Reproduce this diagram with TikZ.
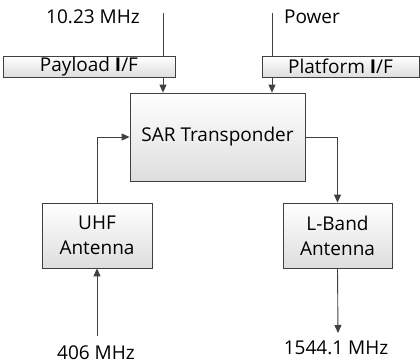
\documentclass[tikz,border=0pt]{standalone}
\usepackage{fontspec}
\setmainfont{Open Sans}
\usetikzlibrary{arrows.meta,positioning}

\begin{document}
\begin{tikzpicture}[x=1pt,y=-1pt,
    blk/.style={draw=black!75, line width=0.8pt, top color=white, bottom color=black!13, inner sep=0pt},
    ln/.style={draw=black!75, line width=0.9pt},
    arr/.style={ln, -{Triangle[length=8pt,width=7pt]}},
    lbl/.style={anchor=base, inner sep=0pt},
    font=\fontsize{19}{25}\selectfont]
    \useasboundingbox (0,0) rectangle (420,363);
    % interface boxes
    \node[blk, minimum width=172pt, minimum height=21pt] (payload) at (89,66.5) {Payload \textbf{I}/F};
    \node[blk, minimum width=157pt, minimum height=21pt] (platform) at (340.5,66.5) {Platform \textbf{I}/F};
    % main blocks
    \node[blk, minimum width=175pt, minimum height=88pt] (sar) at (217.5,137) {SAR Transponder};
    \node[blk, minimum width=110pt, minimum height=65pt, align=center] (uhf) at (97,235.5) {UHF\\Antenna};
    \node[blk, minimum width=109pt, minimum height=65pt, align=center] (lband) at (337.5,235.5) {L-Band\\Antenna};
    % signal labels
    \node[lbl] (clk) at (93,24) {10.23 MHz};
    \node[lbl] (pwr) at (312,24) {Power};
    \node[lbl] (uplink) at (96,359.5) {406 MHz};
    \node[lbl] (downlink) at (336,354) {1544.1 MHz};
    \coordinate (clkin) at (163,13);
    \coordinate (pwrin) at (272,13);
    \coordinate (upin) at (97,336);
    \coordinate (downout) at (338,333);
    % connectors
    \draw[ln] (clkin) -- (clkin |- payload.north);
    \draw[arr] (clkin |- payload.south) -- (clkin |- sar.north);
    \draw[ln] (pwrin) -- (pwrin |- platform.north);
    \draw[arr] (pwrin |- platform.south) -- (pwrin |- sar.north);
    \draw[arr] (uhf.north) |- (sar.west);
    \draw[arr] (sar.east) -| (lband.north);
    \draw[arr] (upin) -- (uhf.south);
    \draw[arr] (lband.south) -- (downout);
\end{tikzpicture}
\end{document}
